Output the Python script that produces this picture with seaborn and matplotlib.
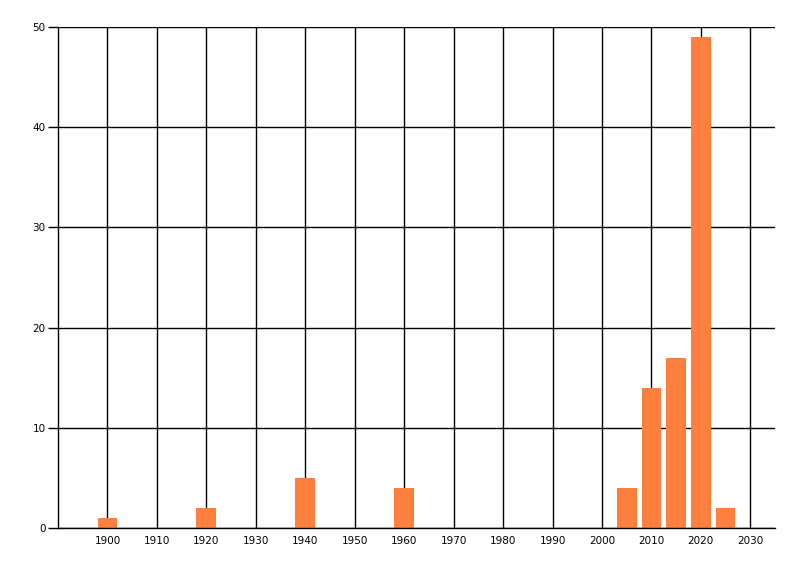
import pandas as pd
import seaborn as sns
import matplotlib.pyplot as plt

# values
years = [1900, 1920, 1940, 1960, 2005, 2010, 2015, 2020, 2025]
counts = [1, 2, 5, 4, 4, 14, 17, 49, 2]
x_ticks = list(range(1900, 2031, 10))
y_ticks = [0, 10, 20, 30, 40, 50]

df = pd.DataFrame({'year': years, 'count': counts})

sns.set_style('white')
plt.rcParams['font.family'] = ['DejaVu Sans']

fig = plt.figure(figsize=(8, 5.76), dpi=100)
ax = fig.add_axes([0.0725, 0.0833, 0.8963, 0.8698])

sns.barplot(data=df, x='year', y='count', native_scale=True,
            color='#FF7F3F', saturation=1, linewidth=0, ax=ax)

ax.set_xlim(1890, 2035)
ax.set_ylim(0, 50)
ax.set_xticks(x_ticks)
ax.set_xticklabels([str(t) for t in x_ticks])
ax.set_yticks(y_ticks)
ax.set_xlabel('')
ax.set_ylabel('')

ax.set_axisbelow(True)
ax.grid(True, color='black', linewidth=1)
for side in ['top', 'right']:
    ax.spines[side].set_visible(False)
for side in ['left', 'bottom']:
    ax.spines[side].set_color('black')
    ax.spines[side].set_linewidth(1)

ax.tick_params(axis='x', length=0, pad=6, labelsize=7.5, labelcolor='black')
ax.tick_params(axis='y', length=7, width=1, color='black', pad=2, labelsize=7.5,
               labelcolor='black', left=True)

fig.savefig('out.png', dpi=100)
